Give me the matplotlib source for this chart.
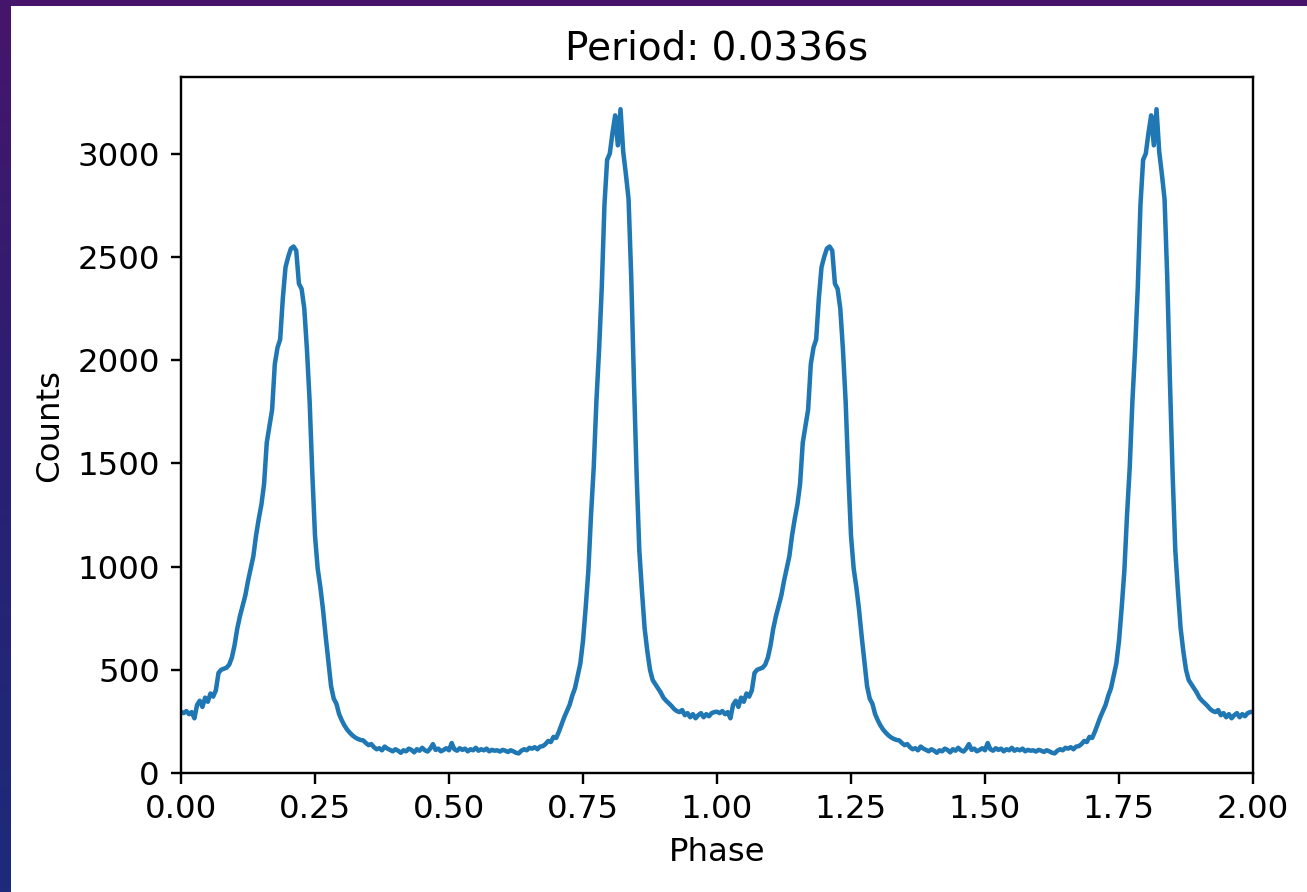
#!/bin/python3

# Folded pulse profile, shown over two rotations (phase 0 - 2).

import numpy as np
import matplotlib
matplotlib.use("Agg")
import matplotlib.pyplot as plt
from matplotlib.colors import LinearSegmentedColormap
from matplotlib.patches import Rectangle

period = 0.0336       # seconds
n_cycles = 2          # number of rotations drawn
bin_width = 0.005     # phase width of one bin

# counts per phase bin over one rotation (200 bins)
profile = [
    297, 290, 300, 285, 295, 265, 330, 350, 320, 365, 345, 385, 370, 400, 485, 500, 505, 510, 525, 560,
    620, 700, 760, 810, 860, 930, 990, 1050, 1150, 1230, 1300, 1400, 1600, 1680, 1760, 1980, 2060, 2100, 2300, 2450,
    2500, 2540, 2550, 2530, 2370, 2345, 2250, 2050, 1800, 1450, 1150, 990, 900, 790, 660, 540, 420, 360, 335, 285,
    255, 230, 210, 195, 182, 172, 165, 160, 158, 145, 135, 140, 125, 115, 120, 110, 128, 118, 112, 105,
    115, 108, 98, 110, 105, 118, 112, 100, 115, 108, 122, 110, 104, 118, 140, 112, 118, 105, 112, 120,
    110, 145, 115, 108, 120, 112, 118, 105, 115, 110, 122, 108, 115, 110, 118, 105, 112, 108, 110, 104,
    112, 108, 102, 110, 105, 98, 95, 108, 115, 110, 122, 118, 125, 115, 128, 130, 140, 155, 150, 175,
    170, 200, 235, 270, 300, 330, 375, 410, 470, 530, 640, 800, 980, 1250, 1480, 1800, 2050, 2350, 2750, 2970,
    3000, 3100, 3185, 3040, 3215, 3010, 2900, 2780, 2400, 1900, 1450, 1080, 880, 700, 590, 500, 450, 430, 410, 390,
    365, 350, 338, 325, 310, 300, 295, 305, 280, 290, 270, 285, 265, 280, 290, 270, 285, 275, 290, 295,
]

# repeat the profile for each rotation and close it at phase = n_cycles
counts = np.array(profile * n_cycles + profile[:1])
phase = np.arange(len(counts)) * bin_width

plt.rcParams["font.size"] = 10.8

fig = plt.figure(figsize=(1307 / 216, 892 / 216), dpi=216)

# slide background: purple/blue strip on the left and top edges
bg = fig.add_axes([0, 0, 1, 1], zorder=-2)
cmap = LinearSegmentedColormap.from_list("slide", ["#46156b", "#2a2073", "#1d2b7a"])
bg.imshow(np.linspace(0, 1, 256).reshape(-1, 1), aspect="auto", cmap=cmap,
          extent=[0, 1, 0, 1])
bg.set_axis_off()
fig.patches.append(Rectangle((11 / 1307, 0), 1, 1 - 6 / 892, transform=fig.transFigure,
                             facecolor="white", edgecolor="none", zorder=-1))

ax = fig.add_axes([181 / 1307, 1 - 773 / 892, (1253 - 181) / 1307, (773 - 77) / 892])
ax.plot(phase, counts)
ax.set_xlim(0, n_cycles)
ax.set_ylim(bottom=0)

ax.set_xlabel("Phase")
ax.set_ylabel("Counts")
ax.set_title(f"Period: {period:.4f}s")

plt.savefig("out.png", dpi=216)
plt.close()
